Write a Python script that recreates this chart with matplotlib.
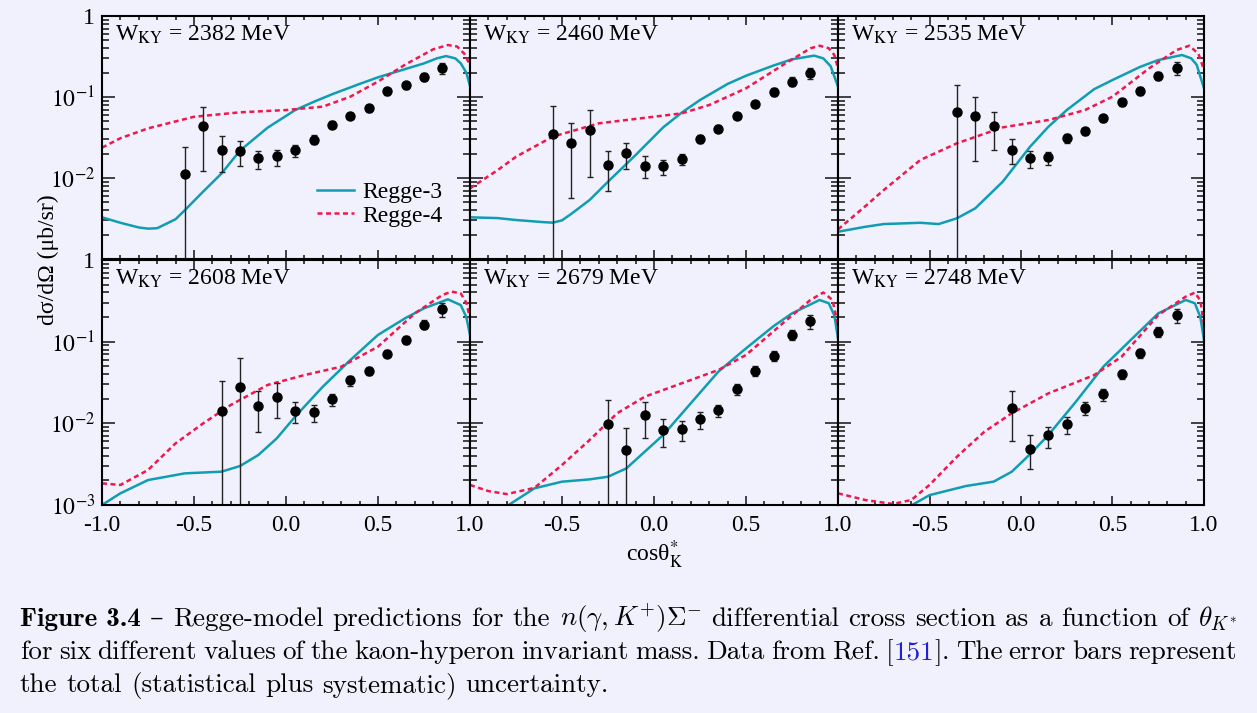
import matplotlib
matplotlib.use('Agg')
import matplotlib.pyplot as plt
import numpy as np
from matplotlib.ticker import MultipleLocator, LogLocator, NullFormatter

plt.rcParams['font.family'] = ['Liberation Serif', 'DejaVu Serif']
plt.rcParams['mathtext.fontset'] = 'stix'

# ---- data ----
energies = [2382, 2460, 2535, 2608, 2679, 2748]

# measured points: cos(theta), value, upper bound, lower bound
pts_x = [
    [-0.55, -0.45, -0.35, -0.25, -0.15, -0.05, 0.05, 0.15, 0.25, 0.35, 0.45, 0.55, 0.65, 0.75, 0.85],
    [-0.55, -0.45, -0.35, -0.25, -0.15, -0.05, 0.05, 0.15, 0.25, 0.35, 0.45, 0.55, 0.65, 0.75, 0.85],
    [-0.35, -0.25, -0.15, -0.05, 0.05, 0.15, 0.25, 0.35, 0.45, 0.55, 0.65, 0.75, 0.85],
    [-0.35, -0.25, -0.15, -0.05, 0.05, 0.15, 0.25, 0.35, 0.45, 0.55, 0.65, 0.75, 0.85],
    [-0.25, -0.15, -0.05, 0.05, 0.15, 0.25, 0.35, 0.45, 0.55, 0.65, 0.75, 0.85],
    [-0.05, 0.05, 0.15, 0.25, 0.35, 0.45, 0.55, 0.65, 0.75, 0.85],
]
pts_y = [
    [0.0112, 0.0439, 0.0224, 0.0216, 0.0177, 0.0185, 0.022, 0.0297, 0.0455, 0.0582, 0.0724, 0.1175, 0.139, 0.178, 0.228],
    [0.0349, 0.0268, 0.0392, 0.0143, 0.0202, 0.0142, 0.0139, 0.017, 0.0303, 0.0407, 0.0577, 0.0827, 0.115, 0.155, 0.20],
    [0.0647, 0.0589, 0.0439, 0.0224, 0.0175, 0.018, 0.0309, 0.038, 0.0546, 0.0859, 0.119, 0.182, 0.230],
    [0.0140, 0.0279, 0.0164, 0.0212, 0.0143, 0.0138, 0.0197, 0.0336, 0.0438, 0.0713, 0.106, 0.162, 0.251],
    [0.0098, 0.00467, 0.0125, 0.00836, 0.00853, 0.0112, 0.0146, 0.0261, 0.0438, 0.0667, 0.121, 0.177],
    [0.0155, 0.0049, 0.00713, 0.0097, 0.0155, 0.0226, 0.0398, 0.072, 0.131, 0.212],
]
pts_hi = [
    [0.0244, 0.075, 0.033, 0.0289, 0.0217, 0.0224, 0.0258, 0.034, 0.050, 0.064, 0.080, 0.128, 0.154, 0.200, 0.265],
    [0.078, 0.0478, 0.0685, 0.0217, 0.0273, 0.0185, 0.0167, 0.0198, 0.034, 0.045, 0.063, 0.090, 0.128, 0.175, 0.23],
    [0.141, 0.101, 0.0659, 0.030, 0.0217, 0.021, 0.035, 0.042, 0.060, 0.095, 0.133, 0.205, 0.27],
    [0.033, 0.0625, 0.0251, 0.0309, 0.0184, 0.0168, 0.0229, 0.038, 0.049, 0.079, 0.118, 0.183, 0.295],
    [0.0195, 0.0087, 0.0184, 0.0114, 0.0108, 0.0137, 0.017, 0.030, 0.050, 0.076, 0.138, 0.212],
    [0.0251, 0.00713, 0.0091, 0.0121, 0.0183, 0.0264, 0.045, 0.082, 0.150, 0.254],
]
pts_lo = [
    [0.0001, 0.0121, 0.0119, 0.0141, 0.0128, 0.0141, 0.0183, 0.026, 0.041, 0.053, 0.066, 0.107, 0.125, 0.158, 0.192],
    [0.0001, 0.0056, 0.0103, 0.0069, 0.0129, 0.0100, 0.0109, 0.0144, 0.027, 0.037, 0.053, 0.076, 0.103, 0.137, 0.165],
    [0.0001, 0.0164, 0.0222, 0.0149, 0.0133, 0.0144, 0.027, 0.034, 0.049, 0.078, 0.106, 0.160, 0.187],
    [0.0001, 0.0001, 0.00776, 0.0115, 0.010, 0.0105, 0.0161, 0.029, 0.039, 0.064, 0.094, 0.142, 0.202],
    [0.0001, 0.0001, 0.00655, 0.00518, 0.0061, 0.0086, 0.0119, 0.022, 0.038, 0.058, 0.104, 0.142],
    [0.00608, 0.00276, 0.00494, 0.0075, 0.0127, 0.019, 0.035, 0.063, 0.113, 0.168],
]

# Regge-3 curves
r3_x = [
    [-1.0, -0.9, -0.8, -0.75, -0.7, -0.6, -0.55, -0.45, -0.35, -0.25, -0.1, 0.05, 0.15, 0.25, 0.4, 0.5, 0.65, 0.75, 0.82, 0.87, 0.92, 0.95, 0.98, 1.0],
    [-1.0, -0.85, -0.75, -0.6, -0.55, -0.5, -0.45, -0.35, -0.25, -0.1, 0.05, 0.15, 0.25, 0.4, 0.5, 0.65, 0.75, 0.87, 0.92, 0.96, 1.0],
    [-1.0, -0.85, -0.75, -0.55, -0.45, -0.35, -0.25, -0.1, 0.05, 0.15, 0.25, 0.4, 0.5, 0.65, 0.75, 0.88, 0.93, 0.96, 1.0],
    [-1.0, -0.9, -0.75, -0.55, -0.35, -0.25, -0.15, -0.05, 0.05, 0.2, 0.35, 0.5, 0.65, 0.75, 0.88, 0.95, 0.98, 1.0],
    [-1.0, -0.79, -0.65, -0.5, -0.35, -0.25, -0.15, -0.05, 0.05, 0.2, 0.35, 0.5, 0.65, 0.75, 0.9, 0.95, 0.98, 1.0],
    [-1.0, -0.595, -0.5, -0.3, -0.15, -0.05, 0.05, 0.15, 0.3, 0.45, 0.6, 0.75, 0.9, 0.95, 0.98, 1.0],
]
r3_y = [
    [0.00327, 0.0028, 0.00245, 0.00237, 0.0024, 0.0031, 0.0040, 0.0068, 0.0114, 0.0218, 0.0418, 0.069, 0.087, 0.108, 0.145, 0.175, 0.222, 0.26, 0.30, 0.32, 0.30, 0.26, 0.20, 0.137],
    [0.00327, 0.0032, 0.00303, 0.00285, 0.00281, 0.0030, 0.0036, 0.00535, 0.009, 0.0192, 0.0422, 0.064, 0.0918, 0.145, 0.183, 0.245, 0.292, 0.324, 0.30, 0.24, 0.134],
    [0.00217, 0.0025, 0.0027, 0.0028, 0.0027, 0.00318, 0.00422, 0.009, 0.0244, 0.043, 0.069, 0.125, 0.162, 0.235, 0.286, 0.33, 0.30, 0.25, 0.128],
    [0.001, 0.00139, 0.00202, 0.00244, 0.00256, 0.0030, 0.0041, 0.00655, 0.0121, 0.0281, 0.0597, 0.121, 0.195, 0.256, 0.33, 0.28, 0.20, 0.121],
    [0.0006, 0.001, 0.0016, 0.00193, 0.00206, 0.00222, 0.00281, 0.0045, 0.0072, 0.0176, 0.043, 0.0828, 0.155, 0.222, 0.324, 0.295, 0.21, 0.11],
    [0.0004, 0.001, 0.00132, 0.00171, 0.00193, 0.00256, 0.0042, 0.0072, 0.0184, 0.0494, 0.105, 0.222, 0.324, 0.295, 0.20, 0.105],
]

# Regge-4 curves
r4_x = [
    [-1.0, -0.9, -0.75, -0.5, -0.25, 0.0, 0.2, 0.35, 0.5, 0.65, 0.8, 0.88, 0.93, 0.97, 1.0],
    [-1.0, -0.85, -0.75, -0.55, -0.3, 0.0, 0.15, 0.3, 0.5, 0.7, 0.85, 0.9, 0.95, 0.98, 1.0],
    [-1.0, -0.85, -0.75, -0.55, -0.35, -0.1, 0.15, 0.35, 0.5, 0.7, 0.85, 0.92, 0.97, 1.0],
    [-1.0, -0.9, -0.75, -0.6, -0.45, -0.3, -0.1, 0.1, 0.3, 0.5, 0.7, 0.85, 0.9, 0.95, 0.98, 1.0],
    [-1.0, -0.9, -0.8, -0.65, -0.5, -0.35, -0.2, -0.05, 0.15, 0.35, 0.5, 0.7, 0.85, 0.92, 0.97, 1.0],
    [-1.0, -0.85, -0.7, -0.6, -0.5, -0.35, -0.2, -0.05, 0.15, 0.4, 0.55, 0.75, 0.9, 0.95, 0.98, 1.0],
]
r4_y = [
    [0.0237, 0.031, 0.041, 0.057, 0.0647, 0.069, 0.076, 0.101, 0.155, 0.253, 0.388, 0.438, 0.42, 0.34, 0.248],
    [0.00745, 0.0125, 0.0183, 0.0324, 0.0473, 0.0571, 0.0628, 0.0796, 0.128, 0.248, 0.399, 0.43, 0.40, 0.33, 0.226],
    [0.00232, 0.0045, 0.0071, 0.0167, 0.0268, 0.0422, 0.052, 0.069, 0.101, 0.226, 0.38, 0.43, 0.34, 0.216],
    [0.00184, 0.00176, 0.00268, 0.00569, 0.010, 0.0168, 0.0295, 0.039, 0.0494, 0.0869, 0.222, 0.373, 0.41, 0.39, 0.30, 0.193],
    [0.00176, 0.00148, 0.00136, 0.00162, 0.00309, 0.00625, 0.0133, 0.0212, 0.0309, 0.045, 0.0687, 0.168, 0.324, 0.40, 0.324, 0.16],
    [0.00139, 0.00115, 0.00103, 0.00115, 0.00176, 0.0039, 0.0079, 0.0133, 0.0233, 0.039, 0.0655, 0.212, 0.356, 0.398, 0.32, 0.16],
]

bg = '#f1f1fd'
c3 = '#0f9db4'
c4 = '#f0174b'

W, H = 1257, 713
fig = plt.figure(figsize=(W / 100, H / 100), dpi=100, facecolor=bg)

lefts = [102, 470, 838]
widths = [368, 368, 366]
tops = [16, 260]
heights = [243, 245]

for k in range(6):
    r, c = divmod(k, 3)
    ax = fig.add_axes([lefts[c] / W, 1 - (tops[r] + heights[r]) / H, widths[c] / W, heights[r] / H])
    ax.set_facecolor(bg)
    ax.set_yscale('log')

    ax.plot(r3_x[k], r3_y[k], color=c3, lw=1.8, label='Regge-3')
    ax.plot(r4_x[k], r4_y[k], color=c4, lw=1.8, ls=(0, (2.0, 1.4)), label='Regge-4')

    x = np.array(pts_x[k]); v = np.array(pts_y[k])
    hi = np.array(pts_hi[k]); lo = np.array(pts_lo[k])
    ax.errorbar(x, v, yerr=[v - lo, hi - v], fmt='o', color='black', ms=6.5,
                ecolor='#222222', elinewidth=1.0, capsize=2.2, capthick=1.0)

    ax.set_xlim(-1, 1)
    ax.set_ylim(1e-3, 1)

    ax.set_xticks([-1, -0.5, 0, 0.5, 1])
    if c == 0:
        ax.set_xticklabels(['-1.0', '-0.5', '0.0', '0.5', '1.0'])
    else:
        ax.set_xticklabels(['', '-0.5', '0.0', '0.5', '1.0'])
    if r == 0:
        ax.tick_params(axis='x', labelbottom=False)
    ax.xaxis.set_minor_locator(MultipleLocator(0.1))

    ax.set_yticks([1e-3, 1e-2, 1e-1, 1])
    if c == 0:
        if r == 0:
            ax.set_yticklabels(['', r'$10^{-2}$', r'$10^{-1}$', '1'])
        else:
            ax.set_yticklabels([r'$10^{-3}$', r'$10^{-2}$', r'$10^{-1}$', '1'])
    else:
        ax.tick_params(axis='y', labelleft=False)
    ax.yaxis.set_minor_locator(LogLocator(base=10, subs=np.arange(2, 10), numticks=20))
    ax.yaxis.set_minor_formatter(NullFormatter())

    ax.tick_params(which='both', direction='in', top=True, right=True,
                   labelsize=17, width=1.1, color='#111111')
    ax.tick_params(axis='x', which='major', length=6.5, pad=7)
    ax.tick_params(axis='x', which='minor', length=3)
    ax.tick_params(axis='y', which='major', length=9.5, pad=5)
    ax.tick_params(axis='y', which='minor', length=5)
    for s in ax.spines.values():
        s.set_linewidth(1.5)

    ax.text(0.035, 0.90, r'W$_{\rm KY}$ = %d MeV' % energies[k], transform=ax.transAxes,
            fontsize=17, va='baseline', ha='left')

    if k == 0:
        ax.legend(loc='upper left', bbox_to_anchor=(0.585, 0.32), frameon=False,
                  fontsize=17, handlelength=1.55, handletextpad=0.35,
                  labelspacing=0.1, borderpad=0, borderaxespad=0)

fig.text(48 / W, 1 - 260 / H, 'dσ/dΩ (μb/sr)', rotation=90, ha='center', va='center', fontsize=17)
fig.text(655 / W, 1 - 555 / H, r'cosθ$_{\rm K}^{*}$', ha='center', va='center', fontsize=17)

# ---- caption ----
renderer = fig.canvas.get_renderer()


def style(kind, size):
    kw = dict(fontsize=size, math_fontfamily='cm')
    if kind == 'b':
        kw['family'] = ['cmb10', 'DejaVu Serif']
    else:
        kw['family'] = ['cmr10', 'DejaVu Serif']
    if kind == 'blue':
        kw['color'] = '#1f1fd8'
    return kw


def width_of(s, kind, size):
    t = fig.text(0, 0, s, **style(kind, size))
    w = t.get_window_extent(renderer).width
    t.remove()
    return w


cap_lines = [
    [[('Figure 3.4', 'b')], [('–', 'r')], [('Regge-model', 'r')], [('predictions', 'r')], [('for', 'r')],
     [('the', 'r')], [(r'$n(\gamma,K^{+})\Sigma^{-}$', 'r')], [('differential', 'r')], [('cross', 'r')],
     [('section', 'r')], [('as', 'r')], [('a', 'r')], [('function', 'r')], [('of', 'r')],
     [(r'$\theta_{K^{*}}$', 'r')]],
    [[('for', 'r')], [('six', 'r')], [('different', 'r')], [('values', 'r')], [('of', 'r')], [('the', 'r')],
     [('kaon-hyperon', 'r')], [('invariant', 'r')], [('mass.', 'r')], [('Data', 'r')], [('from', 'r')],
     [('Ref.', 'r')], [('[', 'r'), ('151', 'blue'), (']', 'r'), ('.', 'r')], [('The', 'r')], [('error', 'r')],
     [('bars', 'r')], [('represent', 'r')]],
    [[('the', 'r')], [('total', 'r')], [('(statistical', 'r')], [('plus', 'r')], [('systematic)', 'r')],
     [('uncertainty.', 'r')]],
]
cap_base = [626, 659, 692]
cap_left, cap_right = 20, 1237

# fit font size so that the second line about fills the text width
s0 = 16
sp0 = width_of('a a', 'r', s0) - width_of('aa', 'r', s0)
nat = sum(width_of(p, kd, s0) for wd in cap_lines[1] for p, kd in wd) + sp0 * (len(cap_lines[1]) - 1)
size = s0 * (cap_right - cap_left) / nat * 1.035
space = width_of('a a', 'r', size) - width_of('aa', 'r', size)

for li, words in enumerate(cap_lines):
    ws = [[width_of(p, kd, size) for p, kd in wd] for wd in words]
    total = sum(sum(w) for w in ws)
    if li < 2:
        gap = (cap_right - cap_left - total) / (len(words) - 1)
    else:
        gap = space
    xp = cap_left
    for wd, wl in zip(words, ws):
        for (p, kd), w in zip(wd, wl):
            fig.text(xp / W, 1 - cap_base[li] / H, p, va='baseline', ha='left', **style(kd, size))
            xp += w
        xp += gap

fig.savefig('out.png', dpi=100, facecolor=bg)
